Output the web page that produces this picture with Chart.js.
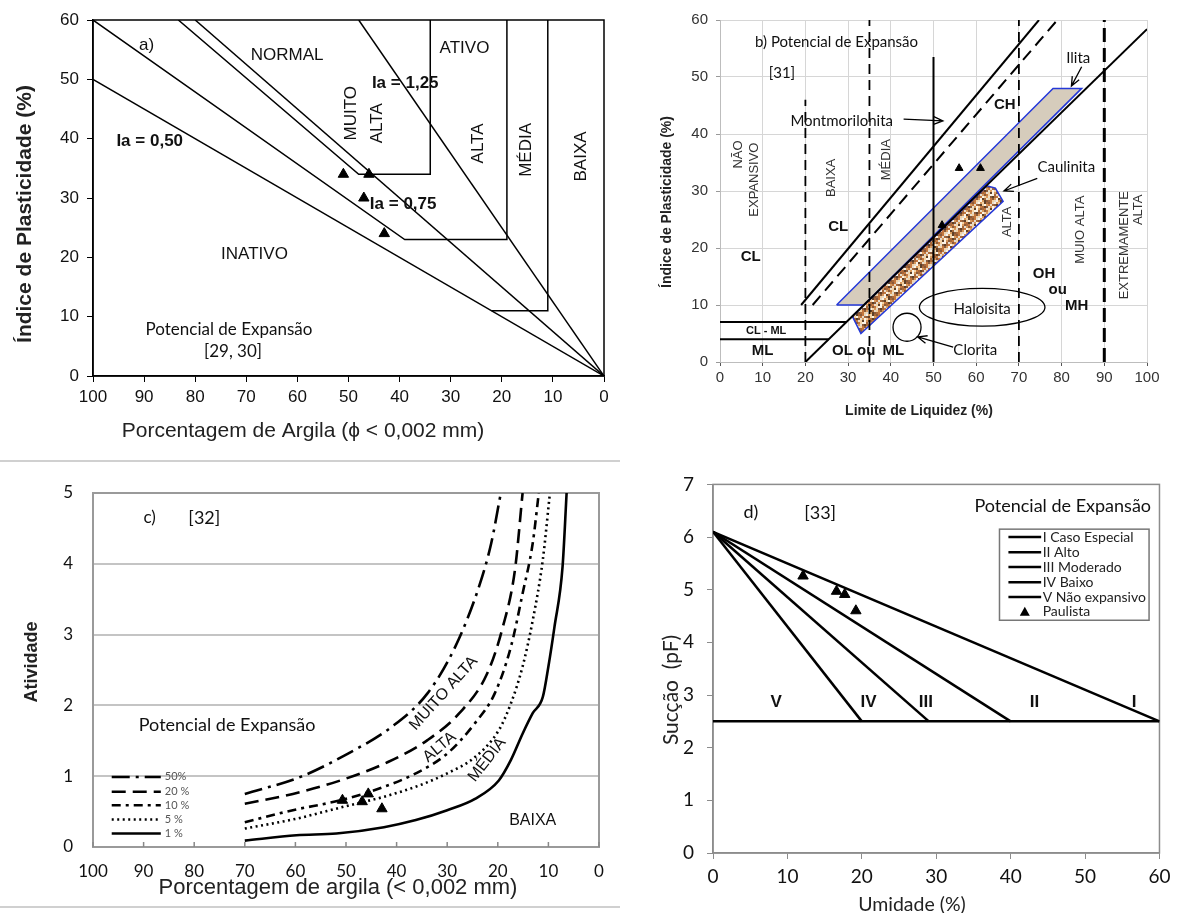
<!DOCTYPE html>
<html lang="pt">
<head>
<meta charset="utf-8">
<title>Potencial de expansão</title>
<script src="https://cdn.jsdelivr.net/npm/chart.js@4.4.1/dist/chart.umd.min.js"></script>
<style>
  html, body { margin: 0; padding: 0; background: #fff; }
  body { position: relative; width: 1177px; height: 913px; overflow: hidden; }
  canvas { position: absolute; }
  .rule { position: absolute; left: 0; width: 620px; height: 2px; background: #d0d0d0; }
</style>
</head>
<body>
<div class="rule" style="top:460px"></div>
<div class="rule" style="top:906px"></div>
<canvas id="chartA" width="620" height="455" style="left:0;top:0"></canvas>
<canvas id="chartB" width="537" height="430" style="left:640px;top:0"></canvas>
<canvas id="chartC" width="620" height="444" style="left:0;top:462px"></canvas>
<canvas id="chartD" width="537" height="470" style="left:640px;top:460px"></canvas>
<script>
// ---- a) indice de plasticidade x % argila ----
const aIa050 = [[100, 50], [0, 0]];
const aIa075 = [[80, 60], [0, 0]];
const aIa125 = [[48, 60], [0, 0]];
const aMuitoAlta = [[83.3, 60], [48, 34], [34, 34], [34, 60]];
const aAlta = [[100, 60], [39, 23], [19, 23], [19, 60]];
const aMedia = [[22, 11], [11, 11], [11, 60]];
const aPaulista = [[51, 34], [46, 34], [47, 30], [43, 24]];

// ---- b) carta de plasticidade ----
const bLinhaA = [[20, 0], [100, 58.4]];
const bLinhaU = [[19, 10], [74.7, 60]];
const bTracejada = [[21.7, 10], [79, 60]];
const bClMl7 = [[0, 7], [29.6, 7]];
const bClMl4 = [[0, 4], [25.5, 4]];
const bV20 = [[20, 0], [20, 46]];
const bV35 = [[35, 0], [35, 60]];
const bV50 = [[50, 0], [50, 53.5]];
const bV70 = [[70, 0], [70, 60]];
const bV90 = [[90, 0], [90, 60]];
const bIlita = [[27.3, 10], [33.7, 10], [84.7, 48], [78, 48], [27.3, 10]];
const bCaulinita = [[31, 8], [33, 5], [66.3, 28.2], [64.5, 30.5], [62.5, 30.9], [31, 8]];
const bPaulista = [[56, 34], [61, 34], [52, 24]];

// ---- c) atividade x % argila ----
const c50 = [[70, 0.75], [59, 0.99], [49.6, 1.32], [40.9, 1.7], [33.9, 2.17], [28.4, 2.83], [23.7, 3.68], [21.3, 4.29], [19.4, 5]];
const c20 = [[70, 0.61], [60.5, 0.75], [51.1, 0.94], [41.7, 1.2], [33.9, 1.51], [27.6, 1.89], [22.1, 2.45], [19, 3.11], [16.6, 3.92], [15.1, 5]];
const c10 = [[70, 0.35], [60.5, 0.52], [51.1, 0.66], [43.3, 0.83], [36.2, 1.04], [30, 1.32], [24.5, 1.75], [20.6, 2.17], [17.4, 2.83], [15.1, 3.58], [13.1, 4.29], [11.9, 5]];
const c5 = [[70, 0.26], [59.8, 0.4], [50.4, 0.57], [42.5, 0.71], [35.5, 0.87], [30, 1.04], [24.5, 1.27], [19.8, 1.65], [17.4, 2.03], [15.1, 2.55], [13.1, 3.2], [11.1, 4.06], [9.7, 5]];
const c1 = [[70, 0.09], [59.8, 0.165], [51.9, 0.19], [42.5, 0.28], [36.2, 0.38], [30, 0.52], [24.5, 0.68], [19.8, 0.94], [17.4, 1.23], [15.1, 1.6], [13.1, 1.89], [11.1, 2.12], [10, 2.55], [8.8, 3.11], [7.2, 3.96], [6.4, 5]];
const cPaulista = [[50.7, 0.66], [46.8, 0.64], [45.6, 0.75], [42.9, 0.54]];
const cLegenda = ['50%', '20 %', '10 %', '5 %', '1 %'];
const cLegendaY = [0.99, 0.78, 0.59, 0.39, 0.19];

// ---- d) succao x umidade ----
const dClasses = ['I Caso Especial', 'II Alto', 'III Moderado', 'IV Baixo', 'V Não expansivo'];
const dLinhaI = [[0, 6.1], [60, 2.5]];
const dLinhaII = [[0, 6.1], [40, 2.5]];
const dLinhaIII = [[0, 6.1], [29, 2.5]];
const dLinhaIV = [[0, 6.1], [20, 2.5]];
const dLinhaV = [[0, 2.5], [60, 2.5]];
const dPaulista = [[12.1, 5.26], [16.6, 4.97], [17.7, 4.91], [19.2, 4.6]];

const pts = arr => arr.map(p => ({ x: p[0], y: p[1] }));

function line(data, opts) {
  return Object.assign({
    data: pts(data), showLine: true, borderColor: '#000', borderWidth: 1.5,
    pointRadius: 0, fill: false, tension: 0, order: 1
  }, opts || {});
}
function marks(data, r) {
  return {
    data: pts(data), showLine: false, pointStyle: 'triangle', pointRadius: r || 6,
    backgroundColor: '#000', borderColor: '#000', borderWidth: 1, order: 0
  };
}

// speckled texture for the caulinita band
function speckle() {
  const c = document.createElement('canvas');
  c.width = c.height = 16;
  const g = c.getContext('2d');
  const cols = ['#fbf3e6', '#a8683a', '#d99a5c', '#5e4028', '#e6dccb', '#c4773e', '#f4d2a4', '#8a5a3a'];
  const map = '0271546301427560' + '3150624772031465' + '6402371540263175' + '1736025406513742';
  for (let i = 0; i < 64; i++) {
    g.fillStyle = cols[+map[i]];
    g.fillRect((i % 8) * 2, Math.floor(i / 8) * 2, 2, 2);
  }
  return g.createPattern(c, 'repeat');
}

Chart.defaults.font.family = '"Liberation Sans", Arial, sans-serif';
Chart.defaults.animation = false;
Chart.defaults.plugins.legend.display = false;
Chart.defaults.plugins.tooltip.enabled = false;

// labels, arrows, frames etc, keyed by canvas id
const extras = {};

function drawExtras(chart, layer) {
  const spec = extras[chart.canvas.id];
  if (!spec) return;
  const { ctx, chartArea: a, scales: { x, y } } = chart;
  const px = v => x.getPixelForValue(v), py = v => y.getPixelForValue(v);
  if (layer === 'under') {
    if (spec.frame) {
      ctx.save();
      ctx.strokeStyle = spec.frame.color;
      ctx.lineWidth = spec.frame.width;
      ctx.strokeRect(a.left, a.top, a.right - a.left, a.bottom - a.top);
      ctx.restore();
    }
    return;
  }
  spec.items.forEach(it => {
    ctx.save();
    ctx.strokeStyle = it.color || '#000';
    ctx.fillStyle = it.color || '#111';
    ctx.lineWidth = it.width || 1.5;
    ctx.setLineDash(it.dash || []);
    if (it.t === 'text' || it.t === 'ptext') {
      ctx.font = it.font;
      ctx.textAlign = it.align || 'center';
      ctx.textBaseline = 'middle';
      if (it.t === 'text') ctx.translate(px(it.x), py(it.y));
      else ctx.translate(it.x, it.y);   // axis titles, canvas pixels
      if (it.rot) ctx.rotate(it.rot * Math.PI / 180);
      ctx.fillText(it.s, 0, 0);
    } else if (it.t === 'seg') {
      ctx.beginPath();
      ctx.moveTo(px(it.x1), py(it.y1));
      ctx.lineTo(px(it.x2), py(it.y2));
      ctx.stroke();
    } else if (it.t === 'arrow') {
      const x1 = px(it.x1), y1 = py(it.y1), x2 = px(it.x2), y2 = py(it.y2);
      const ang = Math.atan2(y2 - y1, x2 - x1);
      ctx.beginPath();
      ctx.moveTo(x1, y1); ctx.lineTo(x2, y2);
      ctx.moveTo(x2 - 10 * Math.cos(ang - 0.4), y2 - 10 * Math.sin(ang - 0.4));
      ctx.lineTo(x2, y2);
      ctx.lineTo(x2 - 10 * Math.cos(ang + 0.4), y2 - 10 * Math.sin(ang + 0.4));
      ctx.stroke();
    } else if (it.t === 'ellipse') {
      ctx.beginPath();
      ctx.ellipse(px(it.x), py(it.y), Math.abs(px(it.x + it.rx) - px(it.x)),
        Math.abs(py(it.y + it.ry) - py(it.y)), 0, 0, Math.PI * 2);
      ctx.stroke();
    } else if (it.t === 'circle') {
      ctx.beginPath();
      ctx.arc(px(it.x), py(it.y), it.r, 0, Math.PI * 2);
      ctx.stroke();
    } else if (it.t === 'rect') {
      const l = px(it.x1), r = px(it.x2), t = py(it.y1), b = py(it.y2);
      ctx.fillStyle = '#fff';
      ctx.fillRect(l, t, r - l, b - t);
      ctx.strokeRect(l, t, r - l, b - t);
    } else if (it.t === 'tri') {
      const cx = px(it.x), cy = py(it.y), s = it.size || 5;
      ctx.beginPath();
      ctx.moveTo(cx, cy - s); ctx.lineTo(cx + s, cy + s * 0.8); ctx.lineTo(cx - s, cy + s * 0.8);
      ctx.closePath(); ctx.fill();
    } else if (it.t === 'ticksIn') {
      x.ticks.forEach(tk => {
        ctx.beginPath();
        ctx.moveTo(px(tk.value), a.bottom);
        ctx.lineTo(px(tk.value), a.bottom - it.len);
        ctx.stroke();
      });
    }
    ctx.restore();
  });
}

Chart.register({
  id: 'extras',
  beforeDatasetsDraw(chart) { drawExtras(chart, 'under'); },
  afterDatasetsDraw(chart) { drawExtras(chart, 'over'); }
});

function axis(o) {
  return {
    type: 'linear', min: o.min, max: o.max, reverse: !!o.reverse,
    ticks: { stepSize: o.step, color: o.tickColor || '#111', font: o.tickFont, padding: o.pad, maxRotation: 0, autoSkip: false },
    grid: {
      display: true, drawOnChartArea: !!o.gridOn, drawTicks: (o.tl || 0) > 0, tickLength: o.tl || 0,
      color: o.gridColor || '#000', lineWidth: o.gridWidth || 1, tickColor: o.tickLineColor || '#000'
    },
    border: { display: true, color: o.borderColor || '#000', width: o.borderWidth || 1.5 },
    title: { display: false },
    afterFit: o.fit
  };
}

// ---------------- a) ----------------
const fA = '17px "Liberation Sans"', fAb = 'bold 17px "Liberation Sans"', fAl = '17px Lato';
extras.chartA = {
  frame: { color: '#000', width: 1.5 },
  items: [
    { t: 'ptext', s: 'Porcentagem de Argila (ϕ < 0,002 mm)', x: 303, y: 431, font: '21px "Liberation Sans"', color: '#222' },
    { t: 'ptext', s: 'Índice de Plasticidade (%)', x: 25, y: 214, font: 'bold 21px "Liberation Sans"', color: '#222', rot: -90 },
    { t: 'text', s: 'a)', x: 89.5, y: 55.8, font: fA },
    { t: 'text', s: 'NORMAL', x: 62, y: 54.1, font: fA },
    { t: 'text', s: 'ATIVO', x: 27.3, y: 55.2, font: fA },
    { t: 'text', s: 'Ia = 1,25', x: 38.9, y: 49.3, font: fAb },
    { t: 'text', s: 'MUITO', x: 49.4, y: 44.3, font: fA, rot: -90 },
    { t: 'text', s: 'ALTA', x: 44.3, y: 42.6, font: fA, rot: -90 },
    { t: 'text', s: 'ALTA', x: 24.6, y: 39.2, font: fA, rot: -90 },
    { t: 'text', s: 'MÉDIA', x: 15.3, y: 38.1, font: fA, rot: -90 },
    { t: 'text', s: 'BAIXA', x: 4.4, y: 37, font: fA, rot: -90 },
    { t: 'text', s: 'Ia = 0,50', x: 88.9, y: 39.5, font: fAb },
    { t: 'text', s: 'Ia = 0,75', x: 39.3, y: 28.9, font: fAb },
    { t: 'text', s: 'INATIVO', x: 68.4, y: 20.5, font: fA },
    { t: 'text', s: 'Potencial de Expansão', x: 73.4, y: 7.8, font: fAl },
    { t: 'text', s: '[29, 30]', x: 72.6, y: 4.2, font: fAl }
  ]
};
new Chart(document.getElementById('chartA'), {
  type: 'scatter',
  data: {
    datasets: [
      marks(aPaulista),
      line(aIa050), line(aIa075), line(aIa125),
      line(aMuitoAlta), line(aAlta), line(aMedia)
    ]
  },
  options: {
    responsive: false,
    layout: { padding: { left: 0, top: 20, right: 16, bottom: 0 } },
    scales: {
      x: axis({
        min: 0, max: 100, step: 10, reverse: true, tl: 6, pad: 5,
        tickFont: { size: 17 }, fit: s => { s.height = 79; }
      }),
      y: axis({
        min: 0, max: 60, step: 10, tl: 6, pad: 8,
        tickFont: { size: 17 }, fit: s => { s.width = 93; }
      })
    }
  }
});

// ---------------- b) ----------------
const fB = '15px Lato', fBb = 'bold 15px "Liberation Sans"', fBr = '13px "Liberation Sans"';
extras.chartB = {
  items: [
    { t: 'ptext', s: 'Limite de Liquidez (%)', x: 279, y: 411, font: 'bold 14px "Liberation Sans"', color: '#222' },
    { t: 'ptext', s: 'Índice de Plasticidade (%)', x: 27, y: 202, font: 'bold 14px "Liberation Sans"', color: '#222', rot: -90 },
    { t: 'text', s: 'b) Potencial de Expansão', x: 27.3, y: 56.2, font: fB },
    { t: 'text', s: '[31]', x: 14.5, y: 50.7, font: fB },
    { t: 'text', s: 'Montmorilonita', x: 28.5, y: 42.3, font: fB },
    { t: 'arrow', x1: 43, y1: 42.6, x2: 52.2, y2: 42.3, width: 1.3 },
    { t: 'text', s: 'Ilita', x: 83.9, y: 53.3, font: fB },
    { t: 'arrow', x1: 84.7, y1: 51.8, x2: 82.3, y2: 48.4, width: 1.3 },
    { t: 'text', s: 'Caulinita', x: 81.1, y: 34.1, font: fB },
    { t: 'arrow', x1: 74.3, y1: 32.2, x2: 66.5, y2: 30, width: 1.3 },
    { t: 'text', s: 'CH', x: 66.7, y: 45.1, font: fBb },
    { t: 'text', s: 'NÃO', x: 4.4, y: 36.4, font: fBr, rot: -90, color: '#333' },
    { t: 'text', s: 'EXPANSIVO', x: 8, y: 32, font: fBr, rot: -90, color: '#333' },
    { t: 'text', s: 'BAIXA', x: 26.1, y: 32.3, font: fBr, rot: -90, color: '#333' },
    { t: 'text', s: 'MÉDIA', x: 39, y: 35.5, font: fBr, rot: -90, color: '#333' },
    { t: 'text', s: 'ALTA', x: 67.3, y: 24.6, font: fBr, rot: -90, color: '#333' },
    { t: 'text', s: 'MUIO ALTA', x: 84.3, y: 23.2, font: fBr, rot: -90, color: '#333' },
    { t: 'text', s: 'EXTREMAMENTE', x: 94.8, y: 20.5, font: fBr, rot: -90, color: '#333' },
    { t: 'text', s: 'ALTA', x: 98, y: 26.7, font: fBr, rot: -90, color: '#333' },
    { t: 'text', s: 'CL', x: 27.7, y: 23.7, font: fBb },
    { t: 'text', s: 'CL', x: 7.2, y: 18.4, font: fBb },
    { t: 'text', s: 'OH', x: 75.9, y: 15.5, font: fBb },
    { t: 'text', s: 'ou', x: 79.1, y: 12.6, font: fBb },
    { t: 'text', s: 'MH', x: 83.5, y: 9.9, font: fBb },
    { t: 'ellipse', x: 61.4, y: 9.6, rx: 14.7, ry: 3.3, width: 1.3 },
    { t: 'text', s: 'Haloisita', x: 61.4, y: 9.3, font: fB },
    { t: 'circle', x: 43.8, y: 6.1, r: 14, width: 1.3 },
    { t: 'text', s: 'Clorita', x: 59.8, y: 2.1, font: fB },
    { t: 'arrow', x1: 54.6, y1: 2.6, x2: 46.3, y2: 4.4, width: 1.3 },
    { t: 'text', s: 'CL - ML', x: 10.8, y: 5.5, font: 'bold 11px "Liberation Sans"' },
    { t: 'text', s: 'ML', x: 10, y: 1.9, font: fBb },
    { t: 'text', s: 'OL ou', x: 31.3, y: 1.9, font: fBb },
    { t: 'text', s: 'ML', x: 40.6, y: 1.9, font: fBb }
  ]
};
const dashed = { borderDash: [10, 6], borderWidth: 1.8 };
new Chart(document.getElementById('chartB'), {
  type: 'scatter',
  data: {
    datasets: [
      marks(bPaulista, 4.5),
      line(bLinhaA, { borderWidth: 2 }),
      line(bLinhaU, { borderWidth: 2 }),
      line(bTracejada, { borderDash: [12, 7], borderWidth: 2 }),
      line(bClMl7, { borderWidth: 2 }),
      line(bClMl4, { borderWidth: 2 }),
      line(bV20, dashed), line(bV35, dashed), line(bV70, dashed),
      line(bV50, { borderWidth: 2 }),
      line(bV90, { borderDash: [14, 6], borderWidth: 3 }),
      line(bCaulinita, { borderColor: '#2438d8', borderWidth: 1.5, fill: 'shape', backgroundColor: speckle(), order: 2 }),
      line(bIlita, { borderColor: '#2438d8', borderWidth: 1.5, fill: 'shape', backgroundColor: '#d6ccbc', order: 3 })
    ]
  },
  options: {
    responsive: false,
    layout: { padding: { left: 0, top: 20, right: 30, bottom: 0 } },
    scales: {
      x: axis({
        min: 0, max: 100, step: 10, tl: 4, pad: 3, gridOn: true, gridColor: '#d6d6d6',
        tickLineColor: '#555', borderColor: '#bdbdbd', borderWidth: 1, tickColor: '#333',
        tickFont: { size: 15 }, fit: s => { s.height = 68; }
      }),
      y: axis({
        min: 0, max: 60, step: 10, tl: 4, pad: 8, gridOn: true, gridColor: '#d6d6d6',
        tickLineColor: '#999', borderColor: '#bdbdbd', borderWidth: 1, tickColor: '#333',
        tickFont: { size: 15 }, fit: s => { s.width = 80; }
      })
    }
  }
});

// ---------------- c) ----------------
const cDashes = [[18, 6, 3, 6], [14, 7], [9, 5, 3, 5], [2, 3.5], []];
const legendItems = [];
cLegenda.forEach((lab, i) => {
  legendItems.push({ t: 'seg', x1: 96.3, y1: cLegendaY[i], x2: 86.6, y2: cLegendaY[i], dash: cDashes[i], width: 2.5 });
  legendItems.push({ t: 'text', s: lab, x: 85.8, y: cLegendaY[i], font: '11px Lato', color: '#555', align: 'left' });
});
extras.chartC = {
  frame: { color: '#9a9a9a', width: 2 },
  items: [
    { t: 'ptext', s: 'Porcentagem de argila (< 0,002 mm)', x: 338, y: 426, font: '22px "Liberation Sans"', color: '#222' },
    { t: 'ptext', s: 'Atividade', x: 32, y: 200, font: 'bold 18px "Liberation Sans"', color: '#222', rot: -90 },
    { t: 'ticksIn', len: 5, color: '#888', width: 1.5 },
    { t: 'text', s: 'c)', x: 88.8, y: 4.65, font: '17px Lato' },
    { t: 'text', s: '[32]', x: 78, y: 4.65, font: '18px Lato' },
    { t: 'text', s: 'Potencial de Expansão', x: 73.5, y: 1.72, font: '18px Lato' },
    { t: 'text', s: 'MUITO ALTA', x: 30.7, y: 2.17, font: '16px "Liberation Sans"', rot: -48 },
    { t: 'text', s: 'ALTA', x: 31.5, y: 1.41, font: '16px "Liberation Sans"', rot: -40 },
    { t: 'text', s: 'MÉDIA', x: 22.1, y: 1.23, font: '16px "Liberation Sans"', rot: -52 },
    { t: 'text', s: 'BAIXA', x: 13.1, y: 0.38, font: '16px "Liberation Sans"' }
  ].concat(legendItems)
};
const curve = (d, i) => line(d, { borderDash: cDashes[i], borderWidth: 2.6, cubicInterpolationMode: 'monotone' });
new Chart(document.getElementById('chartC'), {
  type: 'scatter',
  data: {
    datasets: [
      marks(cPaulista),
      curve(c50, 0), curve(c20, 1), curve(c10, 2), curve(c5, 3), curve(c1, 4)
    ]
  },
  options: {
    responsive: false,
    layout: { padding: { left: 0, top: 31, right: 21, bottom: 0 } },
    scales: {
      x: axis({
        min: 0, max: 100, step: 10, reverse: true, tl: 0, pad: 14,
        borderColor: '#9a9a9a', borderWidth: 2, tickColor: '#111',
        tickFont: { family: 'Lato', size: 17 }, fit: s => { s.height = 59; }
      }),
      y: axis({
        min: 0, max: 5, step: 1, tl: 0, pad: 20, gridOn: true, gridColor: '#c4c4c4', gridWidth: 2,
        borderColor: '#9a9a9a', borderWidth: 2, tickColor: '#111',
        tickFont: { family: 'Lato', size: 17 }, fit: s => { s.width = 93; }
      })
    }
  }
});

// ---------------- d) ----------------
const dRowsY = [6.0, 5.71, 5.43, 5.14, 4.86, 4.58];
const dLegend = [{ t: 'rect', x1: 38.5, y1: 6.15, x2: 58.6, y2: 4.42, color: '#777', width: 1.5 }];
dClasses.forEach((lab, i) => {
  dLegend.push({ t: 'seg', x1: 39.7, y1: dRowsY[i], x2: 44.1, y2: dRowsY[i], width: 2.5 });
  dLegend.push({ t: 'text', s: lab, x: 44.3, y: dRowsY[i], font: '14px Lato', color: '#222', align: 'left' });
});
dLegend.push({ t: 'tri', x: 41.9, y: dRowsY[5], size: 5, color: '#000' });
dLegend.push({ t: 'text', s: 'Paulista', x: 44.3, y: dRowsY[5], font: '14px Lato', color: '#222', align: 'left' });
const fDb = 'bold 17px "Liberation Sans"';
extras.chartD = {
  frame: { color: '#8c8c8c', width: 1.5 },
  items: [
    { t: 'ptext', s: 'Umidade (%)', x: 272, y: 445, font: '19.5px Lato', color: '#222' },
    { t: 'ptext', s: 'Sucção  (pF)', x: 31, y: 230, font: '21px Lato', color: '#222', rot: -90 },
    { t: 'text', s: 'd)', x: 5.1, y: 6.48, font: '18px Lato' },
    { t: 'text', s: '[33]', x: 14.4, y: 6.45, font: '18px Lato' },
    { t: 'text', s: 'Potencial de Expansão', x: 47, y: 6.58, font: '18px Lato' },
    { t: 'text', s: 'V', x: 8.5, y: 2.87, font: fDb },
    { t: 'text', s: 'IV', x: 20.9, y: 2.87, font: fDb },
    { t: 'text', s: 'III', x: 28.6, y: 2.87, font: fDb },
    { t: 'text', s: 'II', x: 43.2, y: 2.87, font: fDb },
    { t: 'text', s: 'I', x: 56.6, y: 2.87, font: fDb }
  ].concat(dLegend)
};
new Chart(document.getElementById('chartD'), {
  type: 'scatter',
  data: {
    datasets: [
      marks(dPaulista),
      line(dLinhaI, { borderWidth: 2.5 }), line(dLinhaII, { borderWidth: 2.5 }),
      line(dLinhaIII, { borderWidth: 2.5 }), line(dLinhaIV, { borderWidth: 2.5 }),
      line(dLinhaV, { borderWidth: 2.5 })
    ]
  },
  options: {
    responsive: false,
    layout: { padding: { left: 0, top: 16, right: 12, bottom: 0 } },
    scales: {
      x: axis({
        min: 0, max: 60, step: 10, tl: 6, pad: 6.5, tickLineColor: '#8c8c8c',
        borderColor: '#8c8c8c', borderWidth: 1.5, tickColor: '#111',
        tickFont: { family: 'Lato', size: 19 }, fit: s => { s.height = 77; }
      }),
      y: axis({
        min: 0, max: 7, step: 1, tl: 6, pad: 13, tickLineColor: '#8c8c8c',
        borderColor: '#8c8c8c', borderWidth: 1.5, tickColor: '#111',
        tickFont: { family: 'Lato', size: 19 }, fit: s => { s.width = 73; }
      })
    }
  }
});
</script>
</body>
</html>
